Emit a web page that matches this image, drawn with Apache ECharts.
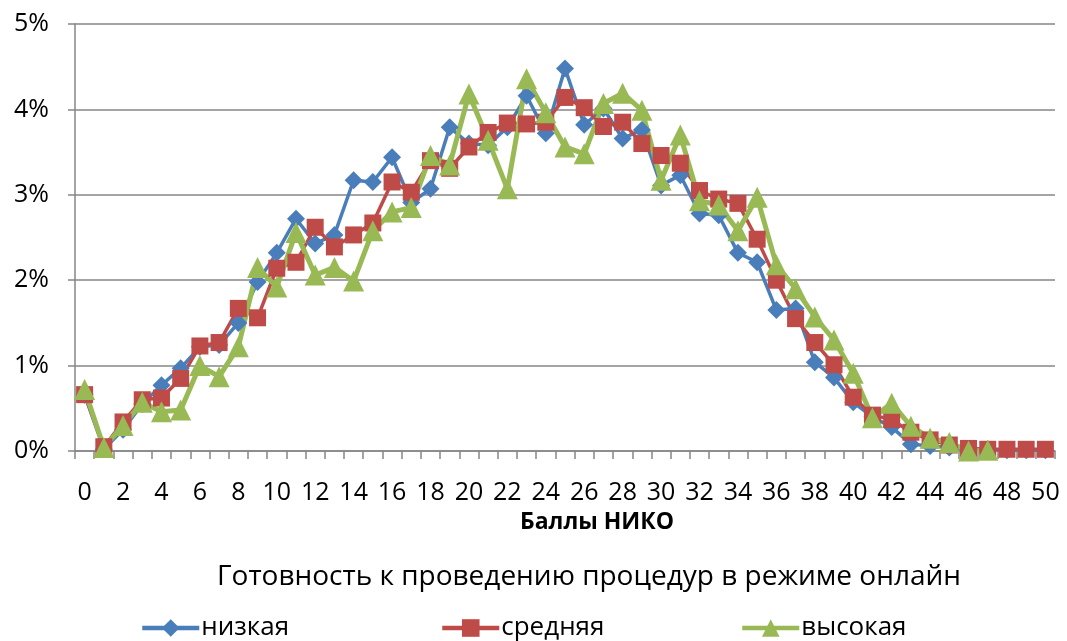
<!DOCTYPE html>
<html>
<head>
<meta charset="utf-8">
<script src="https://cdn.jsdelivr.net/npm/echarts@6/dist/echarts.min.js"></script>
<style>
  html, body { margin: 0; padding: 0; background: #fff; }
  #chart { width: 1067px; height: 641px; }
</style>
</head>
<body>
<div id="chart"></div>
<script>
// Баллы НИКО: 0..50
const categories = Array.from({ length: 51 }, (_, i) => String(i));

// Доля участников (%) по уровню готовности
const lowValues = [0.66, 0.02, 0.25, 0.55, 0.77, 0.97, 1.22, 1.24, 1.50, 1.98,
  2.32, 2.72, 2.43, 2.53, 3.17, 3.15, 3.44, 2.91, 3.07, 3.79,
  3.60, 3.58, 3.79, 4.16, 3.72, 4.48, 3.82, 4.01, 3.66, 3.76,
  3.11, 3.23, 2.78, 2.76, 2.32, 2.21, 1.65, 1.67, 1.04, 0.86,
  0.57, 0.40, 0.28, 0.08, 0.06, 0.04, 0.02, 0.02, 0.01, 0.01, 0.01];

const midValues = [0.66, 0.05, 0.34, 0.60, 0.62, 0.85, 1.23, 1.27, 1.67, 1.56,
  2.14, 2.21, 2.62, 2.39, 2.53, 2.67, 3.15, 3.03, 3.40, 3.31,
  3.56, 3.73, 3.84, 3.83, 3.85, 4.14, 4.02, 3.80, 3.85, 3.60,
  3.46, 3.37, 3.05, 2.95, 2.90, 2.48, 2.00, 1.55, 1.27, 1.01,
  0.63, 0.42, 0.37, 0.22, 0.13, 0.07, 0.03, 0.02, 0.02, 0.02, 0.02];

const highValues = [0.72, 0.04, 0.30, 0.57, 0.46, 0.48, 1.00, 0.87, 1.22, 2.15,
  1.92, 2.56, 2.06, 2.15, 1.99, 2.58, 2.80, 2.85, 3.46, 3.35,
  4.18, 3.64, 3.07, 4.36, 3.96, 3.56, 3.48, 4.07, 4.19, 3.99,
  3.17, 3.70, 2.93, 2.88, 2.58, 2.97, 2.18, 1.90, 1.57, 1.30,
  0.91, 0.39, 0.56, 0.29, 0.15, 0.10, 0.00, 0.01, null, null, null];

const seriesNames = ['низкая', 'средняя', 'высокая'];
const legendTitle = 'Готовность к проведению процедур в режиме онлайн';
const xAxisTitle = 'Баллы НИКО';

const FONT = '"Open Sans", "Noto Sans", sans-serif';
const GRID_GREY = '#868686';

const chart = echarts.init(document.getElementById('chart'), null, { renderer: 'canvas' });

function legendAt(name, left) {
  return {
    data: [name],
    left: left,
    top: 615,
    itemWidth: 57,
    itemHeight: 22,
    itemGap: 0,
    padding: 0,
    lineStyle: { width: 4.5 },
    textStyle: { fontFamily: FONT, fontSize: 26, color: '#000', padding: [0, 0, 0, -3] }
  };
}

chart.setOption({
  animation: false,
  backgroundColor: '#fff',
  title: [
    {
      text: xAxisTitle,
      left: 592,
      textAlign: 'center',
      top: 506,
      textStyle: { fontFamily: FONT, fontSize: 23, fontWeight: 'bold', color: '#000' }
    },
    {
      text: legendTitle,
      left: 584,
      textAlign: 'center',
      top: 558,
      textStyle: { fontFamily: FONT, fontSize: 28, fontWeight: 'normal', color: '#000' }
    }
  ],
  legend: [
    legendAt(seriesNames[0], 140),
    legendAt(seriesNames[1], 440),
    legendAt(seriesNames[2], 740)
  ],
  grid: { left: 75, right: 12, top: 24, bottom: 190, containLabel: false },
  xAxis: {
    type: 'category',
    data: categories,
    boundaryGap: true,
    axisLine: { lineStyle: { color: GRID_GREY, width: 1.5 } },
    axisTick: { show: true, interval: 0, length: 8, lineStyle: { color: GRID_GREY, width: 1.5 } },
    axisLabel: { interval: 1, fontFamily: FONT, fontSize: 25, color: '#000', margin: 29 }
  },
  yAxis: {
    type: 'value',
    min: 0,
    max: 5,
    interval: 1,
    axisLine: { show: true, lineStyle: { color: GRID_GREY, width: 1.5 } },
    axisTick: { show: true, length: 7, lineStyle: { color: GRID_GREY, width: 1.5 } },
    axisLabel: { formatter: '{value}%', fontFamily: FONT, fontSize: 25, color: '#000', margin: 26 },
    splitLine: { lineStyle: { color: GRID_GREY, width: 1.5 } }
  },
  series: [
    {
      name: seriesNames[0],
      type: 'line',
      data: lowValues,
      symbol: 'diamond',
      symbolSize: 18,
      showAllSymbol: true,
      color: '#4A7EBB',
      lineStyle: { width: 3.5, color: '#4A7EBB' },
      itemStyle: { color: '#4A7EBB' }
    },
    {
      name: seriesNames[1],
      type: 'line',
      data: midValues,
      symbol: 'rect',
      symbolSize: 17,
      showAllSymbol: true,
      color: '#BE4B48',
      lineStyle: { width: 3.5, color: '#BE4B48' },
      itemStyle: { color: '#BE4B48' }
    },
    {
      name: seriesNames[2],
      type: 'line',
      data: highValues,
      symbol: 'triangle',
      symbolSize: 21,
      showAllSymbol: true,
      color: '#98B954',
      lineStyle: { width: 5, color: '#98B954' },
      itemStyle: { color: '#98B954' }
    }
  ]
});
</script>
</body>
</html>
